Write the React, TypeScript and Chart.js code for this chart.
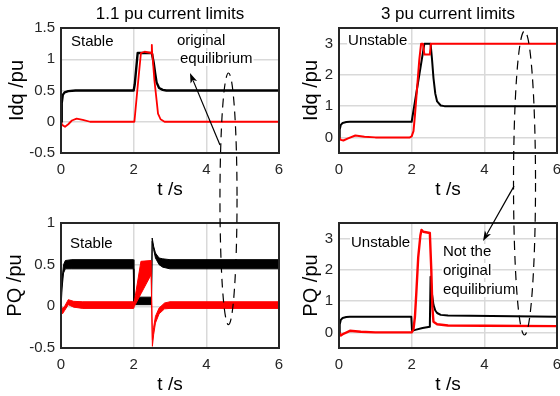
import React, { useEffect, useRef } from "react";
import { Chart, registerables } from "chart.js";

Chart.register(...registerables);

const W = 560;
const H = 396;
const FONT = "'Liberation Sans', Arial, Helvetica, sans-serif";
const RED = "#ff0000";
const BLACK = "#000000";
const GRID = "#d9d9d9";
const AXIS = "#262626";
const Y_AXIS_W = 50;
const X_AXIS_H = 30;

// ---------------- data ----------------
const xTicks = [0, 2, 4, 6];
const idqSmallTicks = [-0.5, 0, 0.5, 1, 1.5];
const pqSmallTicks = [-0.5, 0, 0.5, 1];
const bigTicks = [0, 1, 2, 3];

// top-left: Idq, 1.1 pu limits
const tlBlackT = [0, 0.02, 0.05, 0.1, 0.2, 0.4, 2.0, 2.03, 2.11, 2.5, 2.55, 2.59, 2.63, 2.7, 2.8, 2.9, 6];
const tlBlackV = [0, 0.3, 0.43, 0.47, 0.49, 0.5, 0.5, 0.6, 1.1, 1.1, 0.95, 0.78, 0.63, 0.54, 0.51, 0.5, 0.5];
const tlRedT = [0, 0.03, 0.11, 0.2, 0.3, 0.43, 0.6, 0.8, 2.0, 2.02, 2.1, 2.2, 2.3, 2.48, 2.5, 2.51, 2.52, 2.57, 2.63, 2.67, 2.74, 2.85, 6];
const tlRedV = [0, -0.05, -0.08, -0.04, 0.02, 0.05, 0.03, 0.0, 0.0, 0.0, 0.5, 1.1, 1.12, 1.1, 1.23, 1.08, 1.05, 0.67, 0.35, 0.13, 0.04, 0.0, 0.0];

// top-right: Idq, 3 pu limits
const trBlackT = [0, 0.02, 0.05, 0.1, 0.2, 0.3, 2.0, 2.35, 2.52, 2.56, 2.6, 2.65, 2.7, 2.8, 2.9, 6];
const trBlackV = [0, 0.25, 0.4, 0.46, 0.49, 0.5, 0.5, 3.0, 3.0, 2.5, 1.9, 1.4, 1.15, 1.02, 1.0, 1.0];
const trRedT = [0, 0.05, 0.12, 0.25, 0.45, 0.7, 1.0, 1.95, 2.0, 2.05, 2.09, 2.14, 2.21, 2.26, 2.31, 2.35, 2.5, 2.53, 6];
const trRedV = [0, -0.08, -0.1, -0.03, 0.06, 0.02, 0.0, 0.0, 0.03, 0.2, 0.7, 1.45, 2.48, 3.0, 3.0, 2.65, 2.65, 3.0, 3.0];

// bottom-left: PQ, 1.1 pu limits (noisy bands: upper / lower envelopes)
const blBlackT = [0, 0.03, 0.07, 0.12, 0.3, 1.99, 2.005, 2.49, 2.51, 2.55, 2.6, 2.7, 2.8, 3.0, 6];
const blBlackUp = [0.02, 0.33, 0.5, 0.55, 0.56, 0.56, 0.11, 0.11, 0.82, 0.72, 0.64, 0.58, 0.57, 0.56, 0.56];
const blBlackLo = [-0.02, 0.22, 0.4, 0.45, 0.45, 0.45, 0.02, 0.02, 0.78, 0.68, 0.58, 0.5, 0.47, 0.45, 0.45];
const blRedT = [0, 0.04, 0.1, 0.2, 0.35, 0.6, 2.0, 2.02, 2.2, 2.48, 2.515, 2.55, 2.6, 2.7, 2.85, 3.0, 6];
const blRedUp = [0.02, -0.03, 0.0, 0.08, 0.06, 0.055, 0.055, 0.06, 0.54, 0.55, -0.4, -0.25, -0.12, -0.02, 0.04, 0.055, 0.055];
const blRedLo = [-0.02, -0.09, -0.05, 0.02, -0.01, -0.025, -0.025, 0.0, 0.15, 0.38, -0.48, -0.34, -0.2, -0.09, -0.03, -0.025, -0.025];

// bottom-right: PQ, 3 pu limits
const brBlackT = [0, 0.02, 0.05, 0.1, 0.2, 0.3, 1.99, 2.01, 2.1, 2.3, 2.5, 2.52, 2.55, 2.6, 2.65, 2.7, 2.8, 3.0, 6];
const brBlackV = [0, 0.25, 0.4, 0.46, 0.49, 0.5, 0.5, 0.05, 0.08, 0.14, 0.18, 1.78, 1.3, 0.88, 0.7, 0.62, 0.56, 0.54, 0.5];
const brRedT = [0, 0.05, 0.1, 0.3, 0.6, 1.0, 2.0, 2.05, 2.09, 2.13, 2.18, 2.24, 2.27, 2.32, 2.5, 2.54, 2.57, 2.6, 2.7, 3.0, 4.0, 6];
const brRedV = [0, -0.1, -0.06, 0.05, 0.02, 0.0, 0.0, 0.1, 0.5, 1.3, 2.4, 3.1, 3.28, 3.22, 3.18, 2.0, 0.8, 0.34, 0.26, 0.22, 0.21, 0.2];

// text labels
const titles = ["1.1 pu current limits", "3 pu current limits"];
const idqLabel = "Idq /pu";
const pqLabel = "PQ /pu";
const tLabel = "t /s";

// ---------------- helpers ----------------
type Pt = { x: number; y: number };
const zip = (t: number[], v: number[]): Pt[] => t.map((x, i) => ({ x, y: v[i] }));

function lineDs(t: number[], v: number[], color: string, width: number, order: number) {
  return {
    data: zip(t, v),
    borderColor: color,
    backgroundColor: color,
    borderWidth: width,
    pointRadius: 0,
    fill: false,
    tension: 0,
    order,
    borderJoinStyle: "round" as const,
  };
}

function bandDs(t: number[], up: number[], lo: number[], color: string, order: number) {
  return [
    { data: zip(t, up), borderColor: color, backgroundColor: color, borderWidth: 1, pointRadius: 0, fill: false, tension: 0, order },
    { data: zip(t, lo), borderColor: color, backgroundColor: color, borderWidth: 1, pointRadius: 0, fill: "-1", tension: 0, order },
  ];
}

type Note = { text: string; t: number; v: number };
type Panel = {
  area: { left: number; top: number; right: number; bottom: number };
  yMin: number;
  yMax: number;
  yTicks: number[];
  title?: string;
  yLabel: string;
  yLabelGap: number;
  datasets: any[];
  notes: Note[];
};

const PANELS: Panel[] = [
  {
    area: { left: 61, top: 28, right: 279, bottom: 153 },
    yMin: -0.5, yMax: 1.5, yTicks: idqSmallTicks,
    title: titles[0], yLabel: idqLabel, yLabelGap: 44,
    datasets: [lineDs(tlRedT, tlRedV, RED, 1.8, 0), lineDs(tlBlackT, tlBlackV, BLACK, 2.4, 1)],
    notes: [
      { text: "Stable", t: 0.275, v: 1.212 },
      { text: "original", t: 3.19, v: 1.228 },
      { text: "equilibrium", t: 3.275, v: 0.94 },
    ],
  },
  {
    area: { left: 339, top: 28, right: 557, bottom: 153 },
    yMin: -0.5, yMax: 3.5, yTicks: bigTicks,
    title: titles[1], yLabel: idqLabel, yLabelGap: 28,
    datasets: [lineDs(trRedT, trRedV, RED, 2, 0), lineDs(trBlackT, trBlackV, BLACK, 2, 1)],
    notes: [{ text: "Unstable", t: 0.25, v: 2.956 }],
  },
  {
    area: { left: 61, top: 223, right: 279, bottom: 348 },
    yMin: -0.5, yMax: 1, yTicks: pqSmallTicks,
    yLabel: pqLabel, yLabelGap: 46,
    datasets: [...bandDs(blRedT, blRedUp, blRedLo, RED, 0), ...bandDs(blBlackT, blBlackUp, blBlackLo, BLACK, 1)],
    notes: [{ text: "Stable", t: 0.25, v: 0.7 }],
  },
  {
    area: { left: 339, top: 223, right: 557, bottom: 348 },
    yMin: -0.5, yMax: 3.5, yTicks: bigTicks,
    yLabel: pqLabel, yLabelGap: 28,
    datasets: [lineDs(brRedT, brRedV, RED, 2.4, 0), lineDs(brBlackT, brBlackV, BLACK, 2, 1)],
    notes: [
      { text: "Unstable", t: 0.33, v: 2.732 },
      { text: "Not the", t: 2.86, v: 2.444 },
      { text: "original", t: 2.86, v: 1.836 },
      { text: "equilibrium", t: 2.86, v: 1.228 },
    ],
  },
];

// cross-panel annotations (anchors in data units of the named panel)
const leftEllipse = { t: 4.61, halfT: 0.235, topPanel: 0, topV: 0.78, bottomPanel: 2, bottomV: -0.22 };
const rightEllipse = { t: 5.106, halfT: 0.303, topPanel: 1, topV: 3.404, bottomPanel: 3, bottomV: -0.084 };
const leftArrow = { panel: 0, fromT: 4.376, fromV: -0.372, toT: 3.55, toV: 0.78 };
const rightArrow = { panel: 3, fromT: 4.817, fromV: 4.68, toT: 3.964, toV: 2.924 };

function font(size: number) {
  return `${size}px ${FONT}`;
}

function decorPlugin(p: Panel) {
  return {
    id: "decor",
    afterDatasetsDraw(chart: any) {
      const { ctx, chartArea: a, scales } = chart;
      ctx.save();
      ctx.strokeStyle = AXIS;
      ctx.lineWidth = 2;
      ctx.setLineDash([]);
      ctx.strokeRect(a.left, a.top, a.right - a.left, a.bottom - a.top);

      ctx.textBaseline = "alphabetic";
      ctx.font = font(15);
      for (const n of p.notes) {
        const x = scales.x.getPixelForValue(n.t);
        const y = scales.y.getPixelForValue(n.v);
        const w = ctx.measureText(n.text).width;
        ctx.fillStyle = "#fff";
        ctx.fillRect(x - 1, y - 12, w + 2, 15);
        ctx.fillStyle = "#000";
        ctx.textAlign = "left";
        ctx.fillText(n.text, x, y);
      }
      ctx.restore();
    },
    afterDraw(chart: any) {
      const { ctx, chartArea: a } = chart;
      ctx.save();
      ctx.fillStyle = "#000";
      const cx = (a.left + a.right) / 2;
      if (p.title) {
        ctx.font = font(17);
        ctx.textAlign = "center";
        ctx.textBaseline = "alphabetic";
        ctx.fillText(p.title, cx, a.top - 9);
      }
      ctx.font = font(19);
      ctx.textAlign = "center";
      ctx.textBaseline = "alphabetic";
      ctx.fillText(tLabel, cx, a.bottom + 42);
      ctx.font = font(20);
      ctx.translate(a.left - p.yLabelGap, (a.top + a.bottom) / 2);
      ctx.rotate(-Math.PI / 2);
      ctx.textBaseline = "middle";
      ctx.fillText(p.yLabel, 0, 0);
      ctx.restore();
    },
  };
}

function drawArrow(ctx: CanvasRenderingContext2D, x0: number, y0: number, x1: number, y1: number) {
  const ang = Math.atan2(y1 - y0, x1 - x0);
  const len = 10;
  const half = 3.5;
  ctx.beginPath();
  ctx.moveTo(x0, y0);
  ctx.lineTo(x1 - Math.cos(ang) * len * 0.8, y1 - Math.sin(ang) * len * 0.8);
  ctx.stroke();
  ctx.beginPath();
  ctx.moveTo(x1, y1);
  ctx.lineTo(x1 - Math.cos(ang) * len - Math.sin(ang) * half, y1 - Math.sin(ang) * len + Math.cos(ang) * half);
  ctx.lineTo(x1 - Math.cos(ang) * len * 0.75, y1 - Math.sin(ang) * len * 0.75);
  ctx.lineTo(x1 - Math.cos(ang) * len + Math.sin(ang) * half, y1 - Math.sin(ang) * len - Math.cos(ang) * half);
  ctx.closePath();
  ctx.fill();
}

function overlayPlugin(charts: any[]) {
  return {
    id: "overlay",
    afterDraw(chart: any) {
      const all = [...charts.slice(0, 3), chart];
      if (all.some((c) => !c)) return;
      const ctx: CanvasRenderingContext2D = chart.ctx;
      ctx.save();
      ctx.strokeStyle = "#000";
      ctx.fillStyle = "#000";
      ctx.lineWidth = 1.2;
      for (const e of [leftEllipse, rightEllipse]) {
        const top = all[e.topPanel];
        const bot = all[e.bottomPanel];
        const cx = top.scales.x.getPixelForValue(e.t);
        const rx = top.scales.x.getPixelForValue(e.t + e.halfT) - cx;
        const y0 = top.scales.y.getPixelForValue(e.topV);
        const y1 = bot.scales.y.getPixelForValue(e.bottomV);
        ctx.setLineDash([9, 6]);
        ctx.beginPath();
        ctx.ellipse(cx, (y0 + y1) / 2, rx, (y1 - y0) / 2, 0, 0, Math.PI * 2);
        ctx.stroke();
      }
      ctx.setLineDash([]);
      ctx.lineWidth = 1.2;
      for (const ar of [leftArrow, rightArrow]) {
        const c = all[ar.panel];
        drawArrow(
          ctx,
          c.scales.x.getPixelForValue(ar.fromT),
          c.scales.y.getPixelForValue(ar.fromV),
          c.scales.x.getPixelForValue(ar.toT),
          c.scales.y.getPixelForValue(ar.toV)
        );
      }
      ctx.restore();
    },
  };
}

function makeConfig(p: Panel, charts: any[], withOverlay: boolean): any {
  const tickFont = { family: FONT, size: 15 };
  return {
    type: "line",
    data: { datasets: p.datasets },
    options: {
      responsive: false,
      maintainAspectRatio: false,
      animation: false,
      events: [],
      devicePixelRatio: 1,
      layout: {
        autoPadding: false,
        padding: {
          left: p.area.left - Y_AXIS_W,
          top: p.area.top,
          right: W - p.area.right,
          bottom: H - p.area.bottom - X_AXIS_H,
        },
      },
      plugins: { legend: { display: false }, tooltip: { enabled: false }, title: { display: false } },
      scales: {
        x: {
          type: "linear",
          position: "bottom",
          min: 0,
          max: 6,
          afterBuildTicks: (s: any) => {
            s.ticks = xTicks.map((value) => ({ value }));
          },
          afterFit: (s: any) => {
            s.height = X_AXIS_H;
            s.paddingLeft = 0;
            s.paddingRight = 0;
          },
          grid: { color: GRID, lineWidth: 1.5, drawTicks: false },
          border: { display: false },
          ticks: { font: tickFont, color: AXIS, padding: 8, maxRotation: 0, minRotation: 0, autoSkip: false, callback: (v: any) => String(v) },
        },
        y: {
          type: "linear",
          position: "left",
          min: p.yMin,
          max: p.yMax,
          afterBuildTicks: (s: any) => {
            s.ticks = p.yTicks.map((value) => ({ value }));
          },
          afterFit: (s: any) => {
            s.width = Y_AXIS_W;
            s.paddingTop = 0;
            s.paddingBottom = 0;
          },
          grid: { color: GRID, lineWidth: 1.5, drawTicks: false },
          border: { display: false },
          ticks: { font: tickFont, color: AXIS, padding: 6, autoSkip: false, callback: (v: any) => String(v) },
        },
      },
    },
    plugins: withOverlay ? [decorPlugin(p), overlayPlugin(charts)] : [decorPlugin(p)],
  };
}

export default function App() {
  const canvases = useRef<(HTMLCanvasElement | null)[]>([]);

  useEffect(() => {
    document.body.style.margin = "0";
    const charts: any[] = [];
    PANELS.forEach((p, i) => {
      const cv = canvases.current[i];
      if (!cv) return;
      charts.push(new Chart(cv, makeConfig(p, charts, i === PANELS.length - 1)));
    });
    return () => {
      charts.forEach((c) => c.destroy());
    };
  }, []);

  return (
    <div style={{ position: "absolute", left: 0, top: 0, width: W, height: H, background: "#fff" }}>
      {PANELS.map((_, i) => (
        <canvas
          key={i}
          ref={(el) => {
            canvases.current[i] = el;
          }}
          width={W}
          height={H}
          style={{ position: "absolute", left: 0, top: 0, width: W, height: H }}
        />
      ))}
    </div>
  );
}
